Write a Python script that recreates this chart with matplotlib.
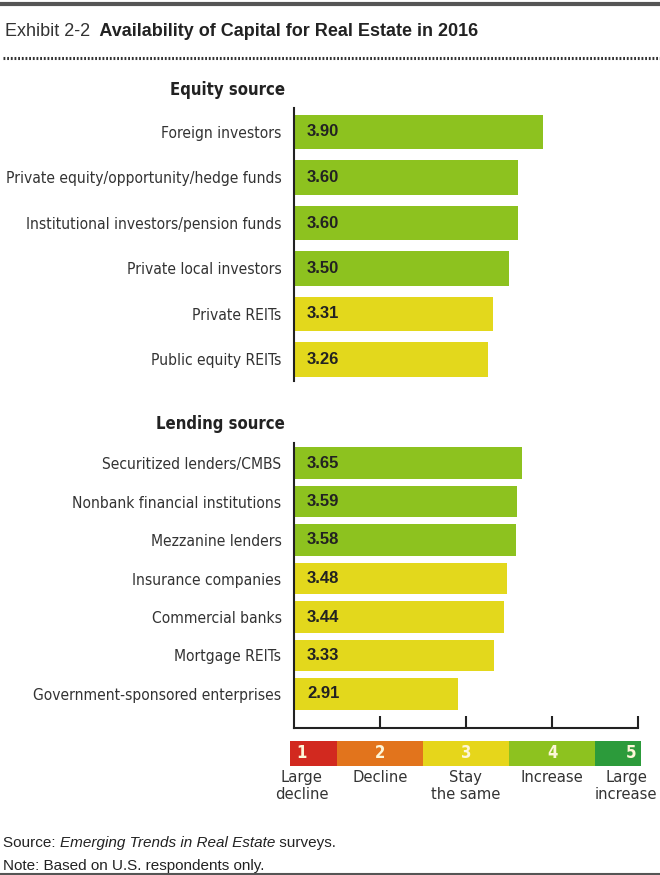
import matplotlib
matplotlib.use("Agg")
import matplotlib.pyplot as plt
from matplotlib.lines import Line2D
from matplotlib import font_manager

# data
equity_labels = ["Foreign investors", "Private equity/opportunity/hedge funds",
                 "Institutional investors/pension funds", "Private local investors",
                 "Private REITs", "Public equity REITs"]
equity_values = [3.90, 3.60, 3.60, 3.50, 3.31, 3.26]

lending_labels = ["Securitized lenders/CMBS", "Nonbank financial institutions",
                  "Mezzanine lenders", "Insurance companies", "Commercial banks",
                  "Mortgage REITs", "Government-sponsored enterprises"]
lending_values = [3.65, 3.59, 3.58, 3.48, 3.44, 3.33, 2.91]

scale_levels = [1, 2, 3, 4, 5]
scale_names = ["Large\ndecline", "Decline", "Stay\nthe same", "Increase", "Large\nincrease"]
scale_colors = ["#d2291f", "#e2741c", "#e6d61b", "#8dc21f", "#2c9b3b"]

GREEN = "#8dc21f"
YELLOW = "#e3d81c"
TXT = "#333333"

# look for a narrow face, otherwise fall back on Liberation Sans at a smaller size
narrow = None
for f in font_manager.fontManager.ttflist:
    if ("Narrow" in f.name or "ondensed" in str(f.stretch)) and f.style == "normal":
        if f.weight in (400, "normal", "regular"):
            narrow = f.name
            break
if narrow:
    plt.rcParams["font.family"] = [narrow, "DejaVu Sans"]
    plt.rcParams["font.stretch"] = "condensed"
    LBL = 11.2
else:
    plt.rcParams["font.family"] = ["Liberation Sans", "DejaVu Sans"]
    LBL = 10.8
ARIAL = ["Liberation Sans", "DejaVu Sans"]

W, H = 660, 875
fig = plt.figure(figsize=(W / 100, H / 100), dpi=100)


def fx(px):
    return px / W


def fy(py):
    return 1 - py / H


# rules at top and bottom
fig.add_artist(Line2D([0, 1], [fy(4), fy(4)], color="#555555", lw=3))
fig.add_artist(Line2D([0.005, 1], [fy(58), fy(58)], color="#333333", lw=2.2, ls=(0, (0.6, 0.6))))
fig.add_artist(Line2D([0, 1], [fy(874), fy(874)], color="#555555", lw=1.5))

x_left = 294
x_right = 638


def bar_axes(top, bottom, first_center, step, labels, values, height):
    ax = fig.add_axes([fx(x_left), fy(bottom), fx(x_right) - fx(x_left), (bottom - top) / H])
    n = len(values)
    ypos = list(range(n))
    colors = [GREEN if v >= 3.5 else YELLOW for v in values]
    ax.barh(ypos, [v - 1 for v in values], left=1, height=height, color=colors)
    ax.set_xlim(1, 5)
    ax.set_ylim((bottom - first_center) / step, (top - first_center) / step)
    for y, v in zip(ypos, values):
        ax.text(1.15, y, "%.2f" % v, va="center", ha="left", fontsize=12,
                fontweight="bold", color="#222222", family=ARIAL, fontstretch="normal")
    ax.set_yticks(ypos)
    ax.set_yticklabels(labels, fontsize=LBL, color=TXT)
    ax.tick_params(axis="y", length=0, pad=9)
    for s in ["top", "right"]:
        ax.spines[s].set_visible(False)
    ax.spines["left"].set_linewidth(1.5)
    ax.spines["left"].set_color("#222222")
    ax.patch.set_alpha(0)
    return ax


ax1 = bar_axes(108, 381, 132, 45.5, equity_labels, equity_values, 0.75)
ax1.spines["bottom"].set_visible(False)
ax1.set_xticks([])

ax2 = bar_axes(443, 728, 463, 38.5, lending_labels, lending_values, 0.83)
ax2.set_xticks([2, 3, 4, 5])
ax2.set_xticklabels([])
ax2.tick_params(axis="x", direction="in", length=9, width=1.5, color="#222222")
ax2.spines["bottom"].set_linewidth(1.5)
ax2.spines["bottom"].set_color("#222222")

# title
t1 = fig.text(fx(5), fy(32), "Exhibit 2-2 ", fontsize=13, color=TXT, va="center",
              family=ARIAL, fontstretch="normal")
ax1.annotate(" Availability of Capital for Real Estate in 2016", xy=(1, 0.5), xycoords=t1,
             va="center", fontsize=13, fontweight="bold", color="#222222",
             family=ARIAL, fontstretch="normal", annotation_clip=False)

fig.text(fx(285), fy(90), "Equity source", ha="right", va="center", fontsize=12,
         fontweight="bold", color="#222222")
fig.text(fx(285), fy(424), "Lending source", ha="right", va="center", fontsize=12,
         fontweight="bold", color="#222222")

# colour scale legend
lo = 1 + (290 - x_left) / 86
hi = 1 + (641 - x_left) / 86
axl = fig.add_axes([fx(290), fy(766), fx(641) - fx(290), 25 / H])
edges = [lo, 1.5, 2.5, 3.5, 4.5, hi]
for i, lvl in enumerate(scale_levels):
    axl.barh(0, edges[i + 1] - edges[i], left=edges[i], height=1, color=scale_colors[i])
axl.set_xlim(lo, hi)
axl.set_ylim(-0.5, 0.5)
axl.axis("off")
num_pos = [1.09, 2, 3, 4, 4.92]
name_pos = [1.09, 2, 3, 4, 4.86]
for i, lvl in enumerate(scale_levels):
    axl.text(num_pos[i], 0, str(lvl), ha="center", va="center", fontsize=12,
             fontweight="bold", color="#fdf6d8")
    axl.text(name_pos[i], -0.65, scale_names[i], ha="center", va="top", fontsize=11.8,
             color=TXT, linespacing=1.15)

# source / note
s1 = fig.text(fx(3), fy(843), "Source: ", fontsize=11, color="#222222", va="center",
              family=ARIAL, fontstretch="normal")
s2 = ax2.annotate("Emerging Trends in Real Estate", xy=(1, 0), xycoords=s1, va="bottom",
                  fontsize=11, style="italic", color="#222222", family=ARIAL,
                  fontstretch="normal", annotation_clip=False)
ax2.annotate(" surveys.", xy=(1, 0), xycoords=s2, va="bottom", fontsize=11,
             color="#222222", family=ARIAL, fontstretch="normal", annotation_clip=False)
fig.text(fx(3), fy(866), "Note: Based on U.S. respondents only.", fontsize=11,
         color="#222222", va="center", family=ARIAL, fontstretch="normal")

fig.savefig("out.png", dpi=100)
